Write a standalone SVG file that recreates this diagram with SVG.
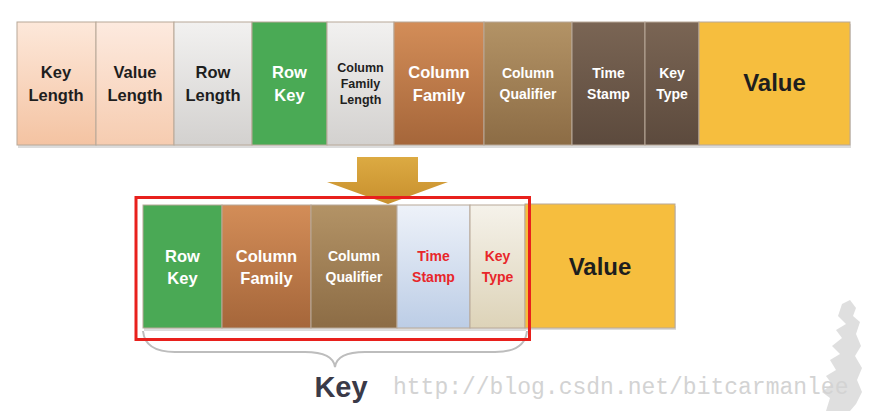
<svg xmlns="http://www.w3.org/2000/svg" width="872" height="411" viewBox="0 0 872 411">
<defs>
<linearGradient id="gPeach" x1="0" y1="0" x2="0" y2="1"><stop offset="0" stop-color="#fde8da"/><stop offset="1" stop-color="#f4c3a2"/></linearGradient>
<linearGradient id="gPeach2" x1="0" y1="0" x2="0" y2="1"><stop offset="0" stop-color="#fdeadf"/><stop offset="1" stop-color="#f6ccb0"/></linearGradient>
<linearGradient id="gGray" x1="0" y1="0" x2="0" y2="1"><stop offset="0" stop-color="#f2f1f0"/><stop offset="1" stop-color="#d3d1cf"/></linearGradient>
<linearGradient id="gOrange" x1="0" y1="0" x2="0" y2="1"><stop offset="0" stop-color="#d38d58"/><stop offset="1" stop-color="#a5663a"/></linearGradient>
<linearGradient id="gQual" x1="0" y1="0" x2="0" y2="1"><stop offset="0" stop-color="#b39366"/><stop offset="1" stop-color="#8c6c45"/></linearGradient>
<linearGradient id="gDark" x1="0" y1="0" x2="0" y2="1"><stop offset="0" stop-color="#7a6554"/><stop offset="1" stop-color="#5c4a3d"/></linearGradient>
<linearGradient id="gBlue" x1="0" y1="0" x2="0" y2="1"><stop offset="0" stop-color="#eef2f9"/><stop offset="1" stop-color="#bccde6"/></linearGradient>
<linearGradient id="gCream" x1="0" y1="0" x2="0" y2="1"><stop offset="0" stop-color="#f5f2ea"/><stop offset="1" stop-color="#ddd3b8"/></linearGradient>
<linearGradient id="gArrow" x1="0" y1="0" x2="0" y2="1"><stop offset="0" stop-color="#dcaa42"/><stop offset="1" stop-color="#c8902e"/></linearGradient>
</defs>
<style>
.box{stroke:#b8a898;stroke-width:1}
.sh{fill:#9a9a9a;opacity:0.35}
.lb{font-family:"Liberation Sans",Arial,sans-serif;font-weight:bold;text-anchor:middle}
.dk{fill:#1e1e1e}
.wt{fill:#ffffff}
.rd{fill:#e8262a}
.t16{font-size:16.5px}
.t14{font-size:14px}
.t13{font-size:12.5px}
.t24{font-size:24px}
.wm{font-family:"Liberation Mono","DejaVu Sans Mono",monospace;font-weight:normal;font-size:23px;fill:#d3d3d3;text-anchor:start}
</style>
<rect width="872" height="411" fill="#ffffff"/>

<!-- top row -->
<g id="top-key-length"><rect class="sh" x="18" y="24" width="79" height="124"/><rect class="box" x="17" y="22" width="79" height="123" fill="url(#gPeach)" stroke="#d2a386"/><text class="lb dk t16" x="56" y="78">Key</text><text class="lb dk t16" x="56" y="101">Length</text></g>
<g id="top-value-length"><rect class="sh" x="97" y="24" width="78" height="124"/><rect class="box" x="96" y="22" width="78" height="123" fill="url(#gPeach2)" stroke="#d2a386"/><text class="lb dk t16" x="135" y="78">Value</text><text class="lb dk t16" x="135" y="101">Length</text></g>
<g id="top-row-length"><rect class="sh" x="175" y="24" width="78" height="124"/><rect class="box" x="174" y="22" width="78" height="123" fill="url(#gGray)" stroke="#9f9a96"/><text class="lb dk t16" x="213" y="78">Row</text><text class="lb dk t16" x="213" y="101">Length</text></g>
<g id="top-row-key"><rect class="sh" x="253" y="24" width="75" height="124"/><rect class="box" x="252" y="22" width="75" height="123" fill="#4aaa55" stroke="#3d8a47"/><text class="lb wt t16" x="289.5" y="78">Row</text><text class="lb wt t16" x="289.5" y="101">Key</text></g>
<g id="top-cf-length"><rect class="sh" x="328" y="24" width="67" height="124"/><rect class="box" x="327" y="22" width="67" height="123" fill="url(#gGray)" stroke="#9f9a96"/><text class="lb dk t13" x="360.5" y="72">Column</text><text class="lb dk t13" x="360.5" y="88">Family</text><text class="lb dk t13" x="360.5" y="104">Length</text></g>
<g id="top-column-family"><rect class="sh" x="395" y="24" width="90" height="124"/><rect class="box" x="394" y="22" width="90" height="123" fill="url(#gOrange)" stroke="#a56a40"/><text class="lb wt t16" x="439" y="78">Column</text><text class="lb wt t16" x="439" y="101">Family</text></g>
<g id="top-column-qualifier"><rect class="sh" x="485" y="24" width="88" height="124"/><rect class="box" x="484" y="22" width="88" height="123" fill="url(#gQual)" stroke="#8c6e4a"/><text class="lb wt t14" x="528" y="78">Column</text><text class="lb wt t14" x="528" y="99">Qualifier</text></g>
<g id="top-time-stamp"><rect class="sh" x="573" y="24" width="73" height="124"/><rect class="box" x="572" y="22" width="73" height="123" fill="url(#gDark)" stroke="#55463a"/><text class="lb wt t14" x="608.5" y="78">Time</text><text class="lb wt t14" x="608.5" y="99">Stamp</text></g>
<g id="top-key-type"><rect class="sh" x="646" y="24" width="54" height="124"/><rect class="box" x="645" y="22" width="54" height="123" fill="url(#gDark)" stroke="#55463a"/><text class="lb wt t14" x="672" y="78">Key</text><text class="lb wt t14" x="672" y="99">Type</text></g>
<g id="top-value"><rect class="sh" x="700" y="24" width="151" height="124"/><rect class="box" x="699" y="22" width="151" height="123" fill="#f6be3e" stroke="#c9a04a"/><text class="lb dk t24" x="774.5" y="91">Value</text></g>

<!-- connectors -->
<g id="connectors">
<polygon points="357,157 418,157 418,182 448,182 388,204 327,182 357,182" fill="url(#gArrow)"/>
<path d="M143,331 Q145,352 175,352 L305,352 Q333,352 335,367 Q337,352 365,352 L495,352 Q525,352 527,331" fill="none" stroke="#bdbdbd" stroke-width="2"/>
</g>

<!-- bottom row -->
<g id="bottom-row-key"><rect class="sh" x="144" y="207" width="79" height="124"/><rect class="box" x="143" y="205" width="79" height="123" fill="#4aa955" stroke="#3d8a47"/><text class="lb wt t16" x="182.5" y="262">Row</text><text class="lb wt t16" x="182.5" y="284">Key</text></g>
<g id="bottom-column-family"><rect class="sh" x="223" y="207" width="89" height="124"/><rect class="box" x="222" y="205" width="89" height="123" fill="url(#gOrange)" stroke="#a56a40"/><text class="lb wt t16" x="266.5" y="262">Column</text><text class="lb wt t16" x="266.5" y="284">Family</text></g>
<g id="bottom-column-qualifier"><rect class="sh" x="312" y="207" width="86" height="124"/><rect class="box" x="311" y="205" width="86" height="123" fill="url(#gQual)" stroke="#8c6e4a"/><text class="lb wt t14" x="354" y="261">Column</text><text class="lb wt t14" x="354" y="282">Qualifier</text></g>
<g id="bottom-time-stamp"><rect class="sh" x="398" y="207" width="73" height="124"/><rect class="box" x="397" y="205" width="73" height="123" fill="url(#gBlue)" stroke="#a9b6c8"/><text class="lb rd t14" x="433.5" y="261">Time</text><text class="lb rd t14" x="433.5" y="282">Stamp</text></g>
<g id="bottom-key-type"><rect class="sh" x="471" y="207" width="55" height="124"/><rect class="box" x="470" y="205" width="55" height="123" fill="url(#gCream)" stroke="#bdb49c"/><text class="lb rd t14" x="497.5" y="261">Key</text><text class="lb rd t14" x="497.5" y="282">Type</text></g>
<g id="bottom-value"><rect class="sh" x="526" y="206" width="150" height="124"/><rect class="box" x="525" y="204" width="150" height="124" fill="#f6be3e" stroke="#c9a04a"/><text class="lb dk t24" x="600" y="275">Value</text></g>

<g id="key-group"><rect x="136" y="197.5" width="393.5" height="142" fill="none" stroke="#e8201c" stroke-width="3"/></g>

<g id="key-label"><text class="lb" x="341" y="397" font-size="29" fill="#3a3a48" style="font-size:29px;fill:#3a3a48">Key</text></g>

<g id="watermark">
<path d="M842,304 L850,300 L856,308 L853,316 L860,322 L856,334 L861,346 L855,356 L862,368 L857,380 L862,392 L856,404 L850,411 L826,411 L830,398 L822,392 L832,384 L826,376 L836,370 L830,360 L840,354 L832,346 L842,338 L836,330 L846,324 L838,316 Z" fill="#c4c4c4" opacity="0.55"/>
<text class="wm" x="393" y="394">http://blog.csdn.net/bitcarmanlee</text>
</g>
</svg>
